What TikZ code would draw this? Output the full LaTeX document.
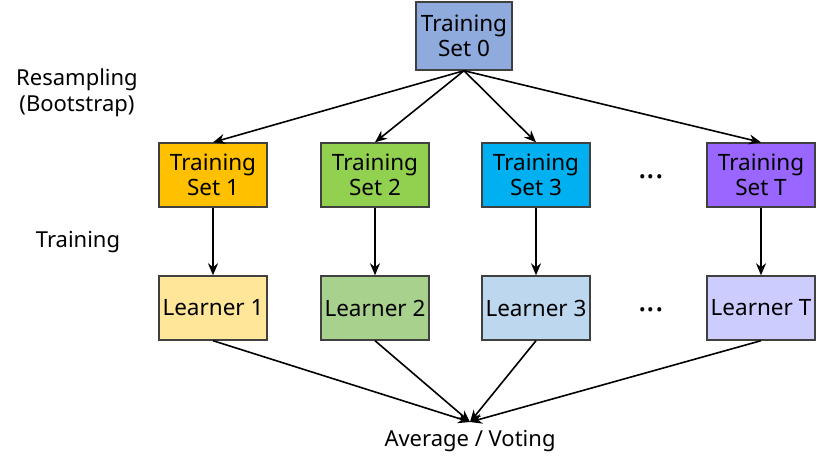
\documentclass[tikz,border=0pt]{standalone}
\usepackage{fontspec}
\setmainfont{Noto Sans}
\usetikzlibrary{arrows.meta}
\definecolor{c0}{HTML}{8FAADC}
\definecolor{c1}{HTML}{FFC000}
\definecolor{c2}{HTML}{92D050}
\definecolor{c3}{HTML}{00B0F0}
\definecolor{cT}{HTML}{9966FF}
\definecolor{l1}{HTML}{FFE699}
\definecolor{l2}{HTML}{A9D18E}
\definecolor{l3}{HTML}{BDD7EE}
\definecolor{lT}{HTML}{CCCCFF}
\definecolor{bord}{HTML}{404040}
\begin{document}
\begin{tikzpicture}[x=1pt,y=-1pt,
  box/.style={draw=bord,line width=1.4pt,minimum width=108pt,minimum height=64pt,inner sep=0pt,align=center,font=\fontsize{22.5}{25}\selectfont},
  lbl/.style={align=center,font=\fontsize{22}{26}\selectfont},
  dots/.style={font=\fontsize{32}{32}\bfseries},
  arr/.style={line width=1.6pt,-{Stealth[length=12pt,width=10pt]}}]
\useasboundingbox (0,0) rectangle (826,470);
\node[box,fill=c0,minimum width=96pt,minimum height=68pt] (t0) at (464,36) {Training\\Set 0};
\node[box,fill=c1] (s1) at (213,175) {Training\\Set 1};
\node[box,fill=c2] (s2) at (375,175) {Training\\Set 2};
\node[box,fill=c3] (s3) at (536,175) {Training\\Set 3};
\node[box,fill=cT] (sT) at (761,175) {Training\\Set T};
\node[box,fill=l1] (l1) at (213,308) {Learner 1};
\node[box,fill=l2] (l2) at (375,308) {Learner 2};
\node[box,fill=l3] (l3) at (536,308) {Learner 3};
\node[box,fill=lT] (lT) at (761,308) {Learner T};
\node[dots] (d1) at (651,177) {...};
\node[dots] (d2) at (651,310) {...};
\node[lbl] (rs) at (77,93) {Resampling\\(Bootstrap)};
\node[lbl] (tr) at (78,242) {Training};
\node[lbl,anchor=north] (av) at (470,427) {Average / Voting};
\coordinate (m) at (470,422);
\draw[arr] (t0.south) -- (s1.north);
\draw[arr] (t0.south) -- (s2.north);
\draw[arr] (t0.south) -- (s3.north);
\draw[arr] (t0.south) -- (sT.north);
\foreach \a/\b in {s1/l1,s2/l2,s3/l3,sT/lT} \draw[arr] (\a) -- (\b);
\draw[arr] (l1.south) -- (m);
\draw[arr] (l2.south) -- (m);
\draw[arr] (l3.south) -- (m);
\draw[arr] (lT.south) -- (m);
\end{tikzpicture}
\end{document}
